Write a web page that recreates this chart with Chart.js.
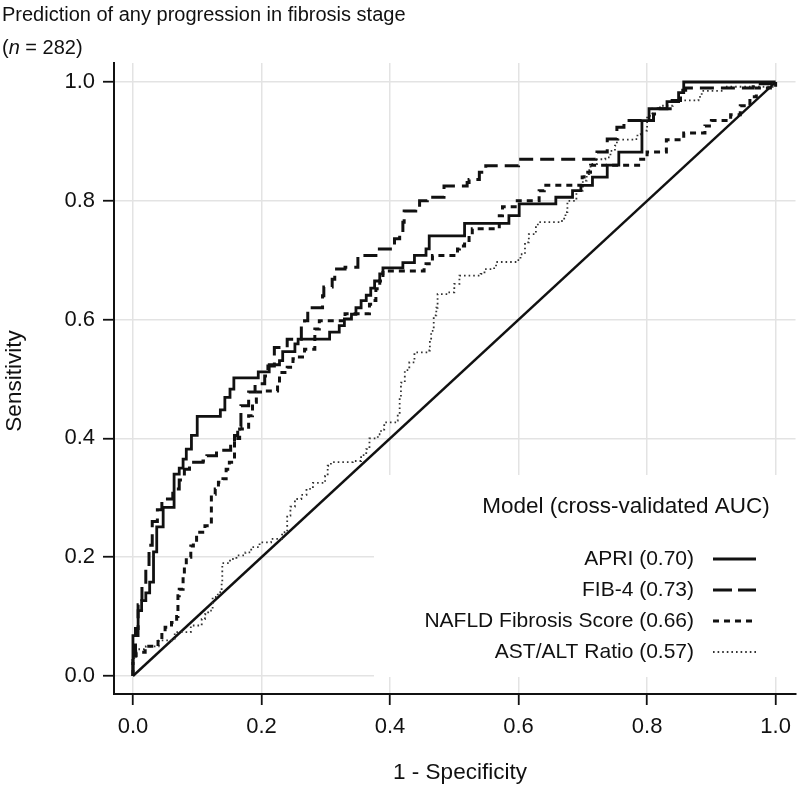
<!DOCTYPE html>
<html lang="en">
<head>
<meta charset="UTF-8" />
<title>ROC curves - fibrosis progression</title>
<script src="https://cdn.jsdelivr.net/npm/chart.js"></script>
<style>
  body { margin: 0; background: #fff; }
  canvas { display: block; }
</style>
</head>
<body>
<canvas id="roc" width="800" height="791"></canvas>
<script>
// tick positions shared by both axes
const tickValues = [0, 0.2, 0.4, 0.6, 0.8, 1.0];

// APRI (solid)
const apriFpr = [0, 0, 0.008, 0.0135, 0.020, 0.026, 0.032, 0.037, 0.047, 0.064, 0.072, 0.078, 0.083, 0.091, 0.100, 0.136, 0.143, 0.151, 0.157, 0.195, 0.212, 0.228, 0.233, 0.252, 0.257, 0.306, 0.321, 0.329, 0.340, 0.347, 0.355, 0.363, 0.370, 0.376, 0.384, 0.389, 0.420, 0.438, 0.456, 0.461, 0.516, 0.585, 0.601, 0.658, 0.684, 0.697, 0.715, 0.738, 0.756, 0.792, 0.803, 0.831, 0.849, 0.857, 1.0];
const apriTpr = [0, 0.068, 0.110, 0.127, 0.140, 0.158, 0.209, 0.251, 0.284, 0.340, 0.350, 0.365, 0.382, 0.405, 0.437, 0.448, 0.469, 0.483, 0.502, 0.512, 0.524, 0.531, 0.546, 0.559, 0.567, 0.579, 0.590, 0.601, 0.609, 0.620, 0.632, 0.641, 0.653, 0.665, 0.677, 0.687, 0.696, 0.708, 0.719, 0.741, 0.762, 0.775, 0.795, 0.806, 0.817, 0.826, 0.840, 0.860, 0.882, 0.935, 0.955, 0.967, 0.982, 1.0, 1.0];

// FIB-4 (long dash)
const fibFpr = [0, 0, 0.004, 0.008, 0.014, 0.020, 0.025, 0.030, 0.038, 0.045, 0.062, 0.072, 0.080, 0.088, 0.109, 0.115, 0.130, 0.152, 0.158, 0.163, 0.168, 0.180, 0.190, 0.205, 0.210, 0.220, 0.240, 0.262, 0.267, 0.272, 0.295, 0.297, 0.310, 0.314, 0.330, 0.350, 0.378, 0.407, 0.415, 0.420, 0.422, 0.440, 0.446, 0.458, 0.484, 0.520, 0.523, 0.539, 0.549, 0.600, 0.720, 0.722, 0.738, 0.753, 0.764, 0.810, 0.818, 0.839, 0.852, 0.860, 0.965, 1.0];
const fibTpr = [0, 0.030, 0.080, 0.120, 0.150, 0.180, 0.220, 0.260, 0.280, 0.298, 0.315, 0.330, 0.348, 0.360, 0.362, 0.371, 0.380, 0.390, 0.405, 0.420, 0.455, 0.478, 0.492, 0.505, 0.522, 0.553, 0.567, 0.590, 0.598, 0.620, 0.640, 0.655, 0.668, 0.685, 0.688, 0.708, 0.719, 0.736, 0.744, 0.764, 0.783, 0.790, 0.800, 0.806, 0.825, 0.831, 0.836, 0.848, 0.859, 0.870, 0.873, 0.882, 0.904, 0.924, 0.935, 0.946, 0.955, 0.969, 0.986, 0.990, 0.997, 1.0];

// NAFLD Fibrosis Score (short dash)
const nfsFpr = [0, 0, 0.005, 0.019, 0.039, 0.045, 0.050, 0.060, 0.068, 0.070, 0.072, 0.078, 0.080, 0.083, 0.090, 0.094, 0.099, 0.112, 0.122, 0.128, 0.133, 0.140, 0.145, 0.150, 0.158, 0.166, 0.180, 0.186, 0.192, 0.202, 0.225, 0.228, 0.240, 0.249, 0.259, 0.267, 0.283, 0.290, 0.330, 0.368, 0.373, 0.378, 0.384, 0.389, 0.453, 0.456, 0.466, 0.505, 0.508, 0.516, 0.523, 0.528, 0.570, 0.575, 0.598, 0.632, 0.640, 0.699, 0.702, 0.712, 0.790, 0.800, 0.830, 0.857, 0.890, 0.900, 0.930, 0.945, 0.960, 0.970, 1.0];
const nfsTpr = [0, 0.030, 0.040, 0.050, 0.062, 0.070, 0.082, 0.090, 0.100, 0.135, 0.146, 0.169, 0.186, 0.200, 0.219, 0.225, 0.242, 0.253, 0.306, 0.315, 0.326, 0.332, 0.348, 0.360, 0.400, 0.416, 0.438, 0.461, 0.478, 0.480, 0.489, 0.511, 0.520, 0.534, 0.537, 0.550, 0.584, 0.598, 0.610, 0.626, 0.632, 0.652, 0.665, 0.682, 0.688, 0.694, 0.708, 0.719, 0.724, 0.733, 0.741, 0.753, 0.775, 0.790, 0.800, 0.817, 0.826, 0.840, 0.848, 0.860, 0.870, 0.882, 0.903, 0.914, 0.926, 0.935, 0.945, 0.960, 0.975, 0.990, 1.0];

// AST/ALT ratio (dotted)
const astFpr = [0, 0, 0.005, 0.020, 0.040, 0.065, 0.090, 0.107, 0.112, 0.117, 0.124, 0.132, 0.138, 0.139, 0.151, 0.161, 0.175, 0.184, 0.197, 0.215, 0.232, 0.236, 0.240, 0.245, 0.252, 0.262, 0.270, 0.280, 0.299, 0.303, 0.308, 0.342, 0.355, 0.363, 0.368, 0.381, 0.386, 0.391, 0.410, 0.412, 0.415, 0.417, 0.423, 0.430, 0.438, 0.459, 0.462, 0.464, 0.468, 0.472, 0.474, 0.490, 0.500, 0.508, 0.541, 0.547, 0.562, 0.565, 0.598, 0.603, 0.610, 0.616, 0.627, 0.630, 0.666, 0.671, 0.673, 0.676, 0.690, 0.700, 0.706, 0.710, 0.712, 0.722, 0.735, 0.743, 0.750, 0.753, 0.782, 0.785, 0.790, 0.800, 0.808, 0.820, 0.840, 0.852, 0.880, 0.885, 0.919, 0.968, 1.0];
const astTpr = [0, 0.030, 0.045, 0.050, 0.060, 0.074, 0.085, 0.096, 0.104, 0.110, 0.133, 0.141, 0.158, 0.190, 0.197, 0.203, 0.208, 0.217, 0.225, 0.231, 0.238, 0.242, 0.270, 0.285, 0.298, 0.305, 0.315, 0.325, 0.337, 0.354, 0.360, 0.362, 0.372, 0.382, 0.400, 0.407, 0.415, 0.427, 0.430, 0.441, 0.470, 0.494, 0.515, 0.528, 0.545, 0.548, 0.565, 0.581, 0.607, 0.620, 0.643, 0.646, 0.660, 0.674, 0.677, 0.685, 0.688, 0.697, 0.700, 0.710, 0.730, 0.744, 0.758, 0.764, 0.766, 0.772, 0.781, 0.800, 0.817, 0.834, 0.845, 0.854, 0.862, 0.870, 0.873, 0.884, 0.893, 0.903, 0.904, 0.912, 0.918, 0.943, 0.955, 0.960, 0.966, 0.969, 0.975, 0.985, 0.992, 0.992, 1.0];

// chance line
const diagFpr = [0, 1];
const diagTpr = [0, 1];

const models = ['APRI (0.70)', 'FIB-4 (0.73)', 'NAFLD Fibrosis Score (0.66)', 'AST/ALT Ratio (0.57)'];

const ink = '#111';
const FONT = "'Liberation Sans', Arial, sans-serif";
Chart.defaults.font.family = FONT;

const toPts = (xs, ys) => xs.map((x, i) => ({ x: x, y: ys[i] }));

const styles = [
    { color: ink, width: 2.8, dash: [] },
    { color: ink, width: 3, dash: [14, 7] },
    { color: ink, width: 3, dash: [6, 5] },
    { color: '#333', width: 1.8, dash: [1.6, 3] }
];

const series = [
    toPts(apriFpr, apriTpr),
    toPts(fibFpr, fibTpr),
    toPts(nfsFpr, nfsTpr),
    toPts(astFpr, astTpr)
];

const datasets = series.map((pts, i) => ({
    label: models[i],
    data: pts,
    borderColor: styles[i].color,
    borderWidth: styles[i].width,
    borderDash: styles[i].dash,
    borderCapStyle: 'butt',
    stepped: 'before',
    pointRadius: 0,
    fill: false
}));

datasets.push({
    label: 'diag',
    data: toPts(diagFpr, diagTpr),
    borderColor: ink,
    borderWidth: 2.4,
    pointRadius: 0,
    fill: false
});

// white legend panel, legend entries and the free texts
const legendPanel = {
    id: 'legendPanel',
    afterDraw(chart) {
        const ctx = chart.ctx;
        ctx.save();
        // panel hides the grid behind the legend
        ctx.fillStyle = '#fff';
        ctx.fillRect(374, 475, 426, 202);

        ctx.fillStyle = ink;
        ctx.textBaseline = 'middle';
        ctx.textAlign = 'center';
        ctx.font = '22.5px ' + FONT;
        ctx.fillText('Model (cross-validated AUC)', 626, 507);
        const rows = [559, 590, 621, 652];
        ctx.textAlign = 'right';
        ctx.font = '21px ' + FONT;
        models.forEach((m, i) => {
            ctx.fillStyle = ink;
            ctx.fillText(m, 694, rows[i]);
            ctx.beginPath();
            ctx.strokeStyle = styles[i].color;
            ctx.lineWidth = styles[i].width;
            ctx.setLineDash(i === 1 ? [19, 6] : styles[i].dash);
            ctx.moveTo(713, rows[i]);
            ctx.lineTo(756, rows[i]);
            ctx.stroke();
        });
        ctx.setLineDash([]);

        ctx.fillStyle = ink;
        ctx.font = '20px ' + FONT;
        ctx.textBaseline = 'alphabetic';
        ctx.textAlign = 'left';
        ctx.fillText('Prediction of any progression in fibrosis stage', 2, 21);
        let x = 2;
        ctx.fillText('(', x, 54);
        x += ctx.measureText('(').width;
        ctx.font = 'italic 20px ' + FONT;
        ctx.fillText('n', x, 54);
        x += ctx.measureText('n').width;
        ctx.font = '20px ' + FONT;
        ctx.fillText(' = 282)', x, 54);

        ctx.font = '22.5px ' + FONT;
        ctx.textAlign = 'center';
        ctx.textBaseline = 'middle';
        ctx.fillText('1 - Specificity', 460, 773);
        ctx.translate(15, 381);
        ctx.rotate(-Math.PI / 2);
        ctx.fillText('Sensitivity', 0, 0);
        ctx.restore();
    }
};

const axisOpts = (isX) => ({
    type: 'linear',
    min: isX ? -0.0295 : -0.0303,
    max: isX ? 1.031 : 1.032,
    afterBuildTicks: s => { s.ticks = tickValues.map(v => ({ value: v })); },
    afterFit: s => { if (isX) s.height = 97; else s.width = 114; },
    ticks: {
        color: ink,
        font: { size: 22 },
        padding: isX ? 9 : 8,
        maxRotation: 0,
        callback: v => Number(v).toFixed(1)
    },
    grid: {
        color: '#e3e3e3',
        lineWidth: 1.5,
        tickLength: 11,
        tickColor: ink,
        tickWidth: 1.8
    },
    border: { display: true, color: ink, width: 2 }
});

new Chart(document.getElementById('roc').getContext('2d'), {
    type: 'line',
    data: { datasets: datasets },
    options: {
        responsive: false,
        animation: false,
        layout: { padding: { top: 63, right: 3, left: 0, bottom: 0 } },
        scales: { x: axisOpts(true), y: axisOpts(false) },
        plugins: { legend: { display: false }, tooltip: { enabled: false }, title: { display: false } }
    },
    plugins: [legendPanel]
});
</script>
</body>
</html>
